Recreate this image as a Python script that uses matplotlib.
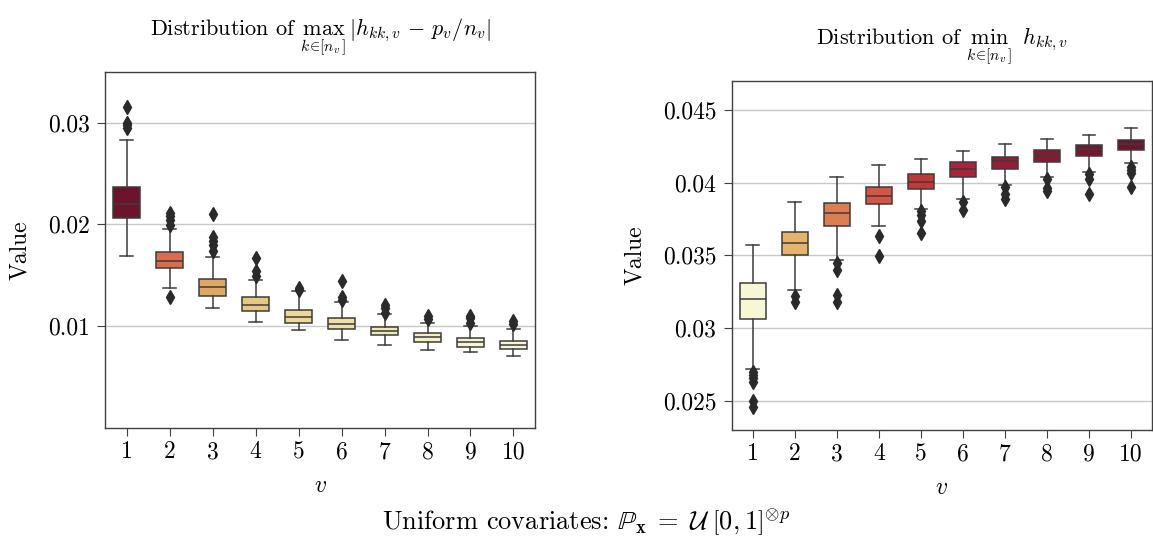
import colorsys

import matplotlib

matplotlib.use("Agg")
import matplotlib.pyplot as plt
from matplotlib import colors as mcolors

plt.rcParams["font.family"] = "serif"
plt.rcParams["font.serif"] = ["cmr10"]
plt.rcParams["mathtext.fontset"] = "cm"
plt.rcParams["axes.formatter.use_mathtext"] = True

groups = list(range(1, 11))

# left panel: max_k |h_kk,v - p_v/n_v|
max_q1 = [0.02059, 0.01575, 0.01297, 0.01154, 0.01030, 0.00971, 0.00912, 0.00846, 0.00800, 0.00775]
max_med = [0.02200, 0.01644, 0.01386, 0.01206, 0.01095, 0.01023, 0.00951, 0.00895, 0.00843, 0.00817]
max_q3 = [0.02366, 0.01732, 0.01467, 0.01284, 0.01160, 0.01082, 0.00997, 0.00938, 0.00886, 0.00859]
max_lo = [0.01693, 0.01379, 0.01176, 0.01039, 0.00961, 0.00869, 0.00820, 0.00771, 0.00745, 0.00703]
max_hi = [0.02827, 0.01957, 0.01680, 0.01451, 0.01343, 0.01235, 0.01124, 0.01033, 0.01000, 0.00974]
max_fliers = [
    [0.03150, 0.02993, 0.02980, 0.02944],
    [0.02111, 0.02078, 0.02046, 0.01997, 0.01291],
    [0.02101, 0.01873, 0.01833, 0.01801, 0.01742],
    [0.01670, 0.01546, 0.01490],
    [0.01376, 0.01360],
    [0.01444, 0.01284, 0.01255],
    [0.01206, 0.01180, 0.01131],
    [0.01098, 0.01072],
    [0.01105, 0.01082, 0.01033],
    [0.01049, 0.01026],
]

# right panel: min_k h_kk,v
min_q1 = [0.03062, 0.03500, 0.03704, 0.03853, 0.03959, 0.04037, 0.04096, 0.04144, 0.04183, 0.04225]
min_med = [0.03202, 0.03583, 0.03794, 0.03908, 0.04002, 0.04096, 0.04149, 0.04188, 0.04229, 0.04266]
min_q3 = [0.03307, 0.03663, 0.03862, 0.03968, 0.04057, 0.04140, 0.04174, 0.04222, 0.04261, 0.04296]
min_lo = [0.02718, 0.03264, 0.03470, 0.03702, 0.03817, 0.03888, 0.03984, 0.04037, 0.04076, 0.04133]
min_hi = [0.03573, 0.03869, 0.04041, 0.04122, 0.04165, 0.04218, 0.04268, 0.04298, 0.04328, 0.04374]
min_fliers = [
    [0.02700, 0.02677, 0.02654, 0.02631, 0.02498, 0.02454],
    [0.03220, 0.03181],
    [0.03445, 0.03399, 0.03227, 0.03177],
    [0.03633, 0.03498],
    [0.03807, 0.03778, 0.03739, 0.03656],
    [0.03869, 0.03812],
    [0.03972, 0.03922, 0.03885],
    [0.04025, 0.03961, 0.03943],
    [0.04060, 0.04023, 0.03920],
    [0.04110, 0.04087, 0.04064, 0.03968],
]

EDGE = "#3c3c3c"


def desaturate(c, prop=0.75):
    r, g, b = mcolors.to_rgb(c)
    h, l, s = colorsys.rgb_to_hls(r, g, b)
    return colorsys.hls_to_rgb(h, l, s * prop)


def draw_panel(ax, q1, med, q3, lo, hi, fliers, ylim, yticks, title, pad):
    stats = [
        dict(q1=a, med=m, q3=b, whislo=w0, whishi=w1, fliers=f)
        for a, m, b, w0, w1, f in zip(q1, med, q3, lo, hi, fliers)
    ]
    cmap = plt.get_cmap("YlOrRd")
    norm = mcolors.Normalize(min(med), max(med))
    bp = ax.bxp(
        stats, positions=groups, widths=0.62, patch_artist=True, showfliers=True,
        boxprops=dict(edgecolor=EDGE, linewidth=1.1),
        medianprops=dict(color=EDGE, linewidth=1.1),
        whiskerprops=dict(color=EDGE, linewidth=1.1),
        capprops=dict(color=EDGE, linewidth=1.1),
        flierprops=dict(marker="d", markerfacecolor="#2a2a2a", markeredgecolor="#2a2a2a",
                        markersize=7, linestyle="none"),
        capwidths=0.3,
    )
    for patch, m in zip(bp["boxes"], med):
        patch.set_facecolor(desaturate(cmap(norm(m)), 0.7))
    ax.set_xlim(0.5, 10.5)
    ax.set_ylim(*ylim)
    ax.set_xticks(groups)
    ax.set_xticklabels([str(g) for g in groups])
    ax.set_yticks(yticks)
    ax.set_yticklabels([f"{t:g}" for t in yticks])
    ax.yaxis.grid(True, color="#c8c8c8", linewidth=1.0)
    ax.set_axisbelow(True)
    for s in ax.spines.values():
        s.set_color("#404040")
        s.set_linewidth(1.0)
    ax.tick_params(labelsize=17, length=6, color="#404040")
    ax.tick_params(axis="y", pad=5)
    ax.set_xlabel("$v$", fontsize=17, labelpad=8)
    ax.set_ylabel("Value", fontsize=17, labelpad=12)
    ax.set_title(title, fontsize=16, pad=pad)


fig = plt.figure(figsize=(11.53, 5.44), dpi=100)
ax1 = fig.add_axes([0.0911, 0.2132, 0.3729, 0.655])
ax2 = fig.add_axes([0.6346, 0.2096, 0.3645, 0.6421])

draw_panel(ax1, max_q1, max_med, max_q3, max_lo, max_hi, max_fliers,
           (0.0, 0.035), [0.01, 0.02, 0.03],
           r"Distribution of $\max_{k\in[n_v]}\,|h_{kk,v}\,-\,p_v/n_v|$", 26)
draw_panel(ax2, min_q1, min_med, min_q3, min_lo, min_hi, min_fliers,
           (0.02298, 0.04702), [0.025, 0.03, 0.035, 0.04, 0.045],
           r"Distribution of $\min_{k\in[n_v]}\;\;h_{kk,v}$", 26)

fig.text(0.508, 0.04,
         r"Uniform covariates: $\mathbb{P}_{\mathbf{x}}\;=\;\mathcal{U}\;\left[0,1\right]^{\otimes p}$",
         ha="center", va="center", fontsize=19)

fig.savefig("out.png", dpi=100)
